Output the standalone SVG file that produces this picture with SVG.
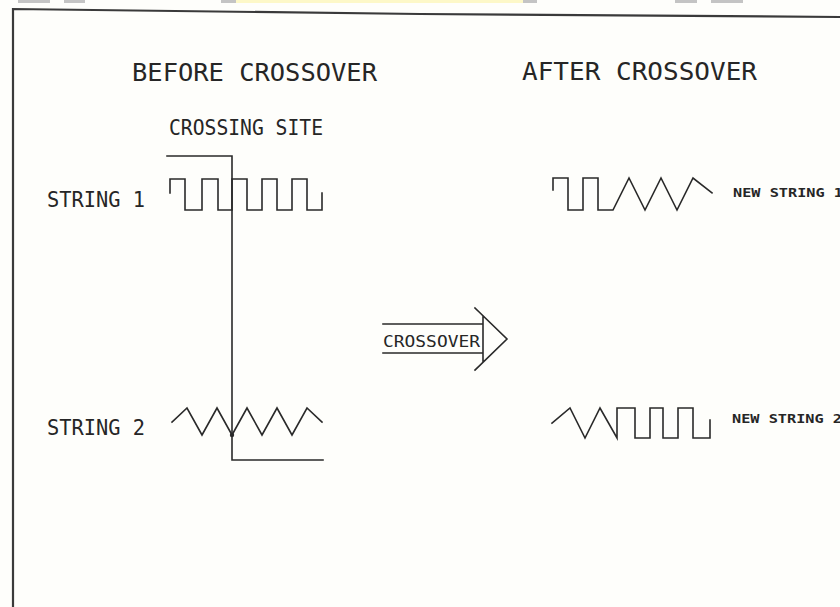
<svg xmlns="http://www.w3.org/2000/svg" width="840" height="607" viewBox="0 0 840 607">
<style>
.ln{fill:none;stroke:#2a2a2a;stroke-width:1.6;stroke-linejoin:miter;stroke-linecap:square}
.t{font-family:"DejaVu Sans Mono","Liberation Mono",monospace;fill:#262626}
.big{font-size:24px}
.mid{font-size:20.5px}
.sm{font-size:16.5px}
.xs{font-size:12.5px;font-weight:bold}
.scan{fill:#c4c4c4}
</style>
<rect width="840" height="607" fill="#fefefb"/>
<g id="scan-marks">
<rect class="scan" x="18" y="0" width="32" height="3"/>
<rect class="scan" x="64" y="0" width="21" height="3"/>
<rect class="scan" x="221" y="0" width="15" height="3"/>
<rect x="236" y="0" width="287" height="3" fill="#fdf8c8"/>
<rect class="scan" x="523" y="0" width="14" height="3"/>
<rect class="scan" x="675" y="0" width="22" height="3"/>
<rect class="scan" x="711" y="0" width="32" height="3"/>
</g>
<g id="frame">
<path d="M13,607 V9 L420,14 L840,17" fill="none" stroke="#3a3a3a" stroke-width="2.2"/>
</g>
<g id="titles">
<text class="t big" x="132" y="81" textLength="245" lengthAdjust="spacingAndGlyphs">BEFORE CROSSOVER</text>
<text class="t big" x="522" y="80" textLength="235" lengthAdjust="spacingAndGlyphs">AFTER CROSSOVER</text>
<text class="t mid" x="169" y="135" textLength="154" lengthAdjust="spacingAndGlyphs">CROSSING SITE</text>
</g>
<g id="string1">
<text class="t mid" x="47" y="207" textLength="98" lengthAdjust="spacingAndGlyphs">STRING 1</text>
<path class="ln" d="M170,193 V179 H185 V210 H202 V179 H218 V210 H232 V179 H247 V210 H262 V179 H277 V210 H292 V179 H307 V210 H322 V193"/>
</g>
<g id="string2">
<text class="t mid" x="47" y="435" textLength="98" lengthAdjust="spacingAndGlyphs">STRING 2</text>
<polyline class="ln" points="172,422 187,408 202,435 217,408 232,435 247,408 262,435 277,408 292,435 307,408 322,422"/>
<circle cx="232" cy="435" r="2.2" fill="#2a2a2a"/>
</g>
<g id="connectors">
<path id="crossing-site" class="ln" d="M167,156 H232 V460 H323"/>
</g>
<g id="crossover-arrow">
<path class="ln" d="M383,324 H483 M383,353 H483 M483,316 V362 M475,308 L507,339 L475,370"/>
<text class="t sm" x="383" y="347" textLength="97" lengthAdjust="spacingAndGlyphs">CROSSOVER</text>
</g>
<g id="new-string1">
<path class="ln" d="M553,190 V178 H568 V210 H583 V178 H598 V210 H613 L629,178 L645,210 L661,178 L677,210 L693,178 L712,193"/>
<text class="t xs" x="733" y="197" textLength="110" lengthAdjust="spacingAndGlyphs">NEW STRING 1</text>
</g>
<g id="new-string2">
<path class="ln" d="M552,423 L570,408 L585,438 L600,408 L617,438 V408 H635 V438 H650 V408 H663 V438 H678 V408 H693 V438 H710 V420"/>
<text class="t xs" x="732" y="423" textLength="110" lengthAdjust="spacingAndGlyphs">NEW STRING 2</text>
</g>
</svg>
